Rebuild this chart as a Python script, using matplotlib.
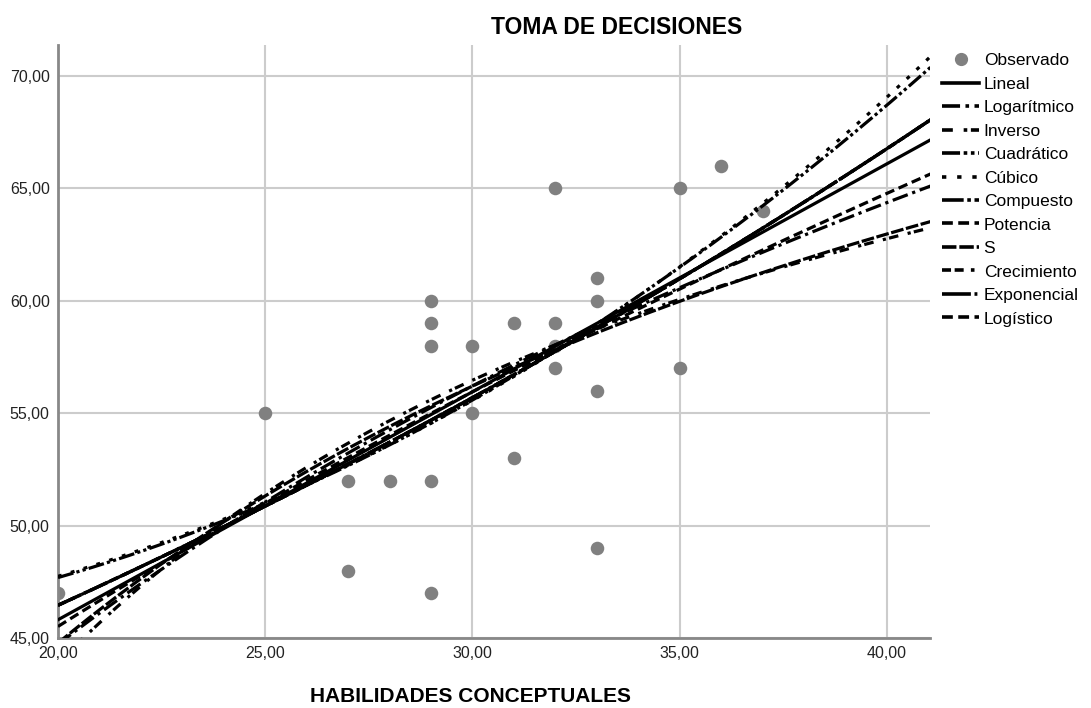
import numpy as np
import matplotlib
matplotlib.use("Agg")
import matplotlib.pyplot as plt
from matplotlib.lines import Line2D

# ---- data ----
habilidades = [20, 25, 27, 27, 28, 29, 29, 29, 29, 29, 30, 30, 31, 31,
               32, 32, 32, 32, 33, 33, 33, 33, 35, 35, 36, 37]
toma = [47, 55, 52, 48, 52, 60, 59, 58, 52, 47, 58, 55, 59, 53,
        65, 59, 58, 57, 61, 60, 56, 49, 65, 57, 66, 64]

title = "TOMA DE DECISIONES"
xlabel = "HABILIDADES CONCEPTUALES"
xticks = [20, 25, 30, 35, 40]
yticks = [45, 50, 55, 60, 65, 70]
model_names = ["Lineal", "Logarítmico", "Inverso", "Cuadrático", "Cúbico",
               "Compuesto", "Potencia", "S", "Crecimiento", "Exponencial",
               "Logístico"]

x = np.array(habilidades, float)
y = np.array(toma, float)
xs = np.linspace(20, 41.2, 400)
ly = np.log(y)


def lsq(cols, target):
    A = np.column_stack(cols)
    coef, *_ = np.linalg.lstsq(A, target, rcond=None)
    return coef


def fit_curve(name):
    if name == "Lineal":
        return np.polyval(np.polyfit(x, y, 1), xs)
    if name == "Logarítmico":
        b = np.polyfit(np.log(x), y, 1)
        return np.polyval(b, np.log(xs))
    if name == "Inverso":
        b = np.polyfit(1 / x, y, 1)
        return np.polyval(b, 1 / xs)
    if name == "Cuadrático":
        return np.polyval(np.polyfit(x, y, 2), xs)
    if name == "Cúbico":
        # linear term dropped (tolerance), as the statistics package does
        c = lsq([np.ones_like(x), x ** 2, x ** 3], y)
        return c[0] + c[1] * xs ** 2 + c[2] * xs ** 3
    if name in ("Compuesto", "Crecimiento", "Exponencial", "Logístico"):
        b = np.polyfit(x, ly, 1)
        return np.exp(np.polyval(b, xs))
    if name == "Potencia":
        b = np.polyfit(np.log(x), ly, 1)
        return np.exp(np.polyval(b, np.log(xs)))
    if name == "S":
        b = np.polyfit(1 / x, ly, 1)
        return np.exp(np.polyval(b, 1 / xs))


styles = {
    "Lineal": "-",
    "Logarítmico": (0, (5, 1.5, 1, 1.5)),
    "Inverso": (0, (3, 3, 1, 1)),
    "Cuadrático": (0, (5, 1, 1, 1, 1, 1)),
    "Cúbico": (0, (1.2, 3)),
    "Compuesto": (0, (6, 1, 1, 1)),
    "Potencia": (0, (3, 1.5)),
    "S": (0, (4, 0.8)),
    "Crecimiento": (0, (2.5, 1, 2.5, 2, 1, 2)),
    "Exponencial": (0, (8, 1, 0.8, 1)),
    "Logístico": (0, (3, 1.5)),
}

plt.rcParams['font.family'] = ['Liberation Sans', 'DejaVu Sans']
fig = plt.figure(figsize=(10.91, 7.08), dpi=100)
ax = fig.add_axes([58 / 1091, 1 - 638 / 708, 872 / 1091, 593 / 708])

ax.set_xlim(20, 41.04)
ax.set_ylim(45, 71.38)

ax.grid(True, color="#cccccc", linewidth=1.5)
ax.set_axisbelow(True)

ax.scatter(x, y, s=95, color="#808080", zorder=2, linewidths=0)

handles = [Line2D([], [], marker="o", linestyle="none", color="#808080",
                  markersize=8.5)]
for name in model_names:
    ax.plot(xs, fit_curve(name), color="black", linewidth=2.3,
            linestyle=styles[name], zorder=3)
    handles.append(Line2D([], [], color="black", linewidth=2.6,
                          linestyle=styles[name]))

ax.set_xticks(xticks)
ax.set_yticks(yticks)
ax.set_xticklabels([f"{v:.2f}".replace(".", ",") for v in xticks],
                   fontsize=11.5, color="#222222")
ax.set_yticklabels([f"{v:.2f}".replace(".", ",") for v in yticks],
                   fontsize=11.5, color="#222222")
ax.tick_params(length=0, pad=6)

for s in ("top", "right"):
    ax.spines[s].set_visible(False)
for s in ("left", "bottom"):
    ax.spines[s].set_color("#888888")
    ax.spines[s].set_linewidth(2)

fig.text(617 / 1091, 1 - 27 / 708, title, ha="center", va="center",
         fontsize=16.5, fontweight="bold")
fig.text(470 / 1091, 1 - 697 / 708, xlabel, ha="center", va="center",
         fontsize=15, fontweight="bold")

fig.legend(handles, ["Observado"] + model_names,
           loc="upper left", bbox_to_anchor=(942 / 1091, 1 - 53 / 708),
           frameon=False, handlelength=2.15,
           handletextpad=0.25, labelspacing=0.48, borderaxespad=0,
           borderpad=0, prop={'family': 'Liberation Sans', 'size': 12.5})

fig.savefig("out.png", dpi=100)
